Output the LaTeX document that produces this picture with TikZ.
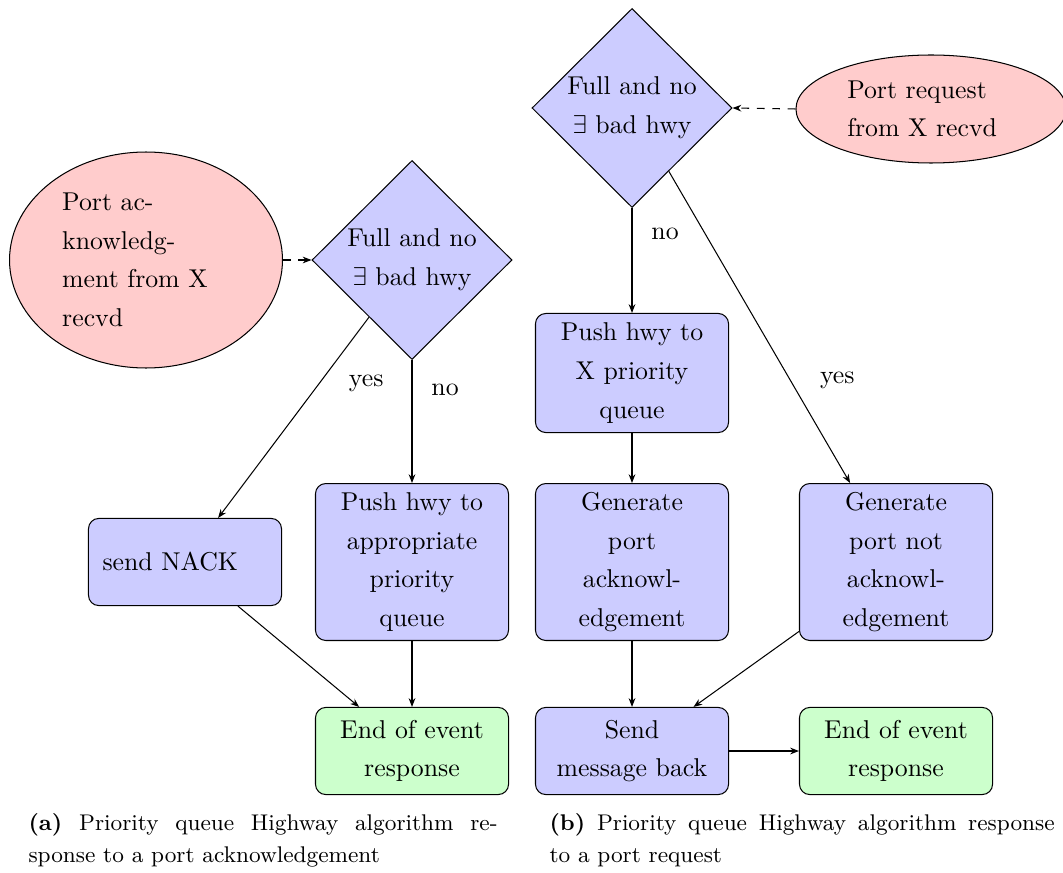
\documentclass[tikz,border=0pt]{standalone}
\usetikzlibrary{shapes.geometric,arrows.meta}
\begin{document}
\begin{tikzpicture}[x=0.388pt,y=-0.388pt,
  every node/.style={font=\fontsize{10}{15}\selectfont},
  proc/.style={draw, rounded corners=4pt, fill=blue!20, minimum width=74.9pt,
    text width=64pt, align=center, inner sep=3pt},
  short/.style={proc, minimum height=33.8pt},
  tall/.style={proc, minimum height=60.9pt},
  mid/.style={proc, minimum height=46.2pt},
  final/.style={short, fill=green!20},
  decision/.style={draw, diamond, fill=blue!20, minimum width=77.6pt,
    minimum height=77.2pt, inner sep=0pt, align=center},
  event/.style={draw, ellipse, fill=red!20, inner sep=0pt, text width=65pt, align=left},
  flow/.style={-{Stealth[length=3.4pt,width=2.6pt]}},
  trigger/.style={flow, dashed},
  caption/.style={font=\fontsize{8.8}{12.4}\selectfont, anchor=north west, align=left, inner sep=0pt}
]
\useasboundingbox (0,0) rectangle (1063,872);

% (a) response to a port acknowledgement
\node[event, minimum width=105.9pt, minimum height=83.8pt] (ain) at (146,260)
  {Port ac-\\knowledg-\\ment from X\\recvd};
\node[decision] (adec) at (412,260) {Full and no\\$\exists$ bad hwy};
\node[short, align=left] (anack) at (185,562) {send NACK};
\node[tall] (apush) at (412,562) {Push hwy to\\appropriate\\priority\\queue};
\node[final] (aend) at (412,751) {End of event\\response};

\draw[trigger] (ain.east) -- (adec.west);
\draw[flow] (adec) -- node[pos=0.33, right=8pt] {yes} (anack);
\draw[flow] (adec) -- node[pos=0.24, right=4pt] {no} (apush);
\draw[flow] (anack) -- (aend);
\draw[flow] (apush) -- (aend);

% (b) response to a port request
\node[event, minimum width=104.8pt, minimum height=41.9pt] (bin) at (931,109)
  {Port request\\from X recvd};
\node[decision] (bdec) at (632,108) {Full and no\\$\exists$ bad hwy};
\node[mid] (bpush) at (632,373) {Push hwy to\\X priority\\queue};
\node[tall] (back) at (632,562) {Generate\\port\\acknowl-\\edgement};
\node[tall] (bnot) at (896,562) {Generate\\port not\\acknowl-\\edgement};
\node[short] (bsend) at (632,751) {Send\\message back};
\node[final] (bend) at (896,751) {End of event\\response};

\draw[trigger] (bin.west) -- (bdec.east);
\draw[flow] (bdec) -- node[pos=0.25, right=4pt] {no} (bpush);
\draw[flow] (bdec) -- node[pos=0.67, right=8pt] {yes} (bnot);
\draw[flow] (bpush) -- (back);
\draw[flow] (back) -- (bsend);
\draw[flow] (bnot) -- (bsend);
\draw[flow] (bsend) -- (bend);

% sub-captions
\node[caption] (capa) at (28,813)
  {\hbox to 182pt{\textbf{(a)} Priority queue Highway algorithm re-}\\sponse to a port acknowledgement};
\node[caption] (capb) at (549,813)
  {\hbox to 196pt{\textbf{(b)} Priority queue Highway algorithm response}\\to a port request};
\end{tikzpicture}
\end{document}
